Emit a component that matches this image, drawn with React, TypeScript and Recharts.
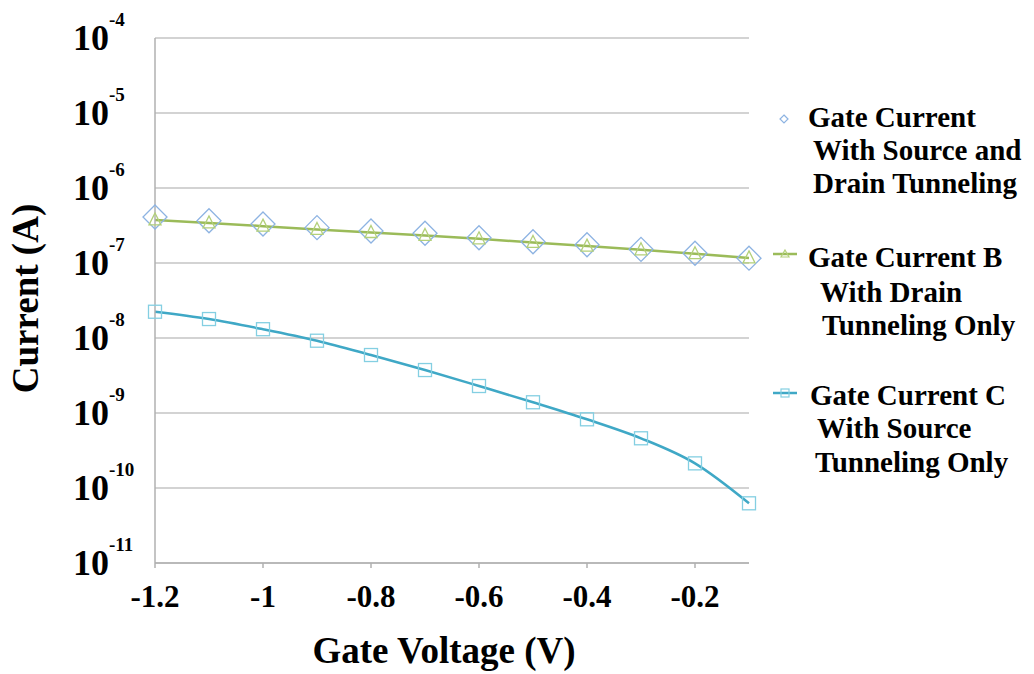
import { LineChart, Line, XAxis, YAxis, CartesianGrid, Legend, Label } from 'recharts';

// Gate voltage sweep (V)
const voltages = [-1.2, -1.1, -1.0, -0.9, -0.8, -0.7, -0.6, -0.5, -0.4, -0.3, -0.2, -0.1];
// Gate current with source and drain tunneling (A)
const currentBoth = [4.1e-7, 3.66e-7, 3.31e-7, 2.96e-7, 2.67e-7, 2.49e-7, 2.17e-7, 1.92e-7, 1.75e-7, 1.52e-7, 1.35e-7, 1.16e-7];
// Gate current B, drain tunneling only (A)
const currentDrain = [3.75e-7, 3.42e-7, 3.1e-7, 2.8e-7, 2.55e-7, 2.33e-7, 2.1e-7, 1.88e-7, 1.68e-7, 1.5e-7, 1.33e-7, 1.17e-7];
// Gate current C, source tunneling only (A)
const currentSource = [2.24e-8, 1.79e-8, 1.31e-8, 9.2e-9, 5.93e-9, 3.74e-9, 2.29e-9, 1.39e-9, 8.24e-10, 4.6e-10, 2.13e-10, 6.25e-11];

const xTicks = [-1.2, -1, -0.8, -0.6, -0.4, -0.2];
const yTicks = [1e-11, 1e-10, 1e-9, 1e-8, 1e-7, 1e-6, 1e-5, 1e-4];

const legendItems = [
  ['Gate Current', 'With Source and', 'Drain Tunneling'],
  ['Gate Current B', 'With Drain', 'Tunneling Only'],
  ['Gate Current C', 'With Source', 'Tunneling Only'],
];

const serif = { fontFamily: "'Liberation Serif', 'Times New Roman', 'DejaVu Serif', serif", fontWeight: 700 };
const GREEN = '#9bbb59';
const TEAL = '#3fa8c6';
const DIAMOND = '#8db3e2';
const TRI = '#b3d07a';
const SQUARE = '#84cfe2';

const chartData = voltages.map((v, i) => ({
  v,
  both: currentBoth[i],
  drain: currentDrain[i],
  source: currentSource[i],
}));

const diamondDot = (p: any) => {
  const { cx, cy, index } = p;
  const r = 12;
  return (
    <path
      key={`d-${index}`}
      d={`M${cx},${cy - r}L${cx + r},${cy}L${cx},${cy + r}L${cx - r},${cy}Z`}
      fill="none"
      stroke={DIAMOND}
      strokeWidth={1.3}
    />
  );
};

const triangleDot = (p: any) => {
  const { cx, cy, index } = p;
  return (
    <path
      key={`t-${index}`}
      d={`M${cx},${cy - 7}L${cx + 6},${cy + 5}L${cx - 6},${cy + 5}Z`}
      fill="none"
      stroke={TRI}
      strokeWidth={1.3}
    />
  );
};

const squareDot = (p: any) => {
  const { cx, cy, index } = p;
  return (
    <rect
      key={`s-${index}`}
      x={cx - 6.5}
      y={cy - 6.5}
      width={13}
      height={13}
      fill="none"
      stroke={SQUARE}
      strokeWidth={1.3}
    />
  );
};

const YTick = ({ x, y, payload }: any) => {
  const exp = Math.round(Math.log10(payload.value));
  return (
    <text x={x - 74} y={y + 12} style={serif} fill="#000">
      <tspan fontSize={36}>10</tspan>
      <tspan fontSize={19} dy={-24}>{String(exp)}</tspan>
    </text>
  );
};

const XTick = ({ x, y, payload }: any) => (
  <text x={x} y={y + 37} textAnchor="middle" style={{ ...serif, fontSize: 31 }} fill="#000">
    {String(payload.value)}
  </text>
);

const renderLegend = () => {
  const textPos = [
    [[68, 37], [73, 70], [73, 103]],
    [[68, 177], [80, 212], [82, 245]],
    [[70, 315], [77, 348], [75, 382]],
  ];
  return (
    <svg width={294} height={400}>
      <path d="M44,25L48,29L44,33L40,29Z" fill="none" stroke={DIAMOND} strokeWidth={1.2} />
      <line x1={33} x2={57} y1={164} y2={164} stroke={GREEN} strokeWidth={2.5} />
      <path d="M45,160L49,167L41,167Z" fill="none" stroke={TRI} strokeWidth={1.2} />
      <line x1={33} x2={57} y1={303} y2={303} stroke={TEAL} strokeWidth={2.5} />
      <rect x={41} y={299} width={8} height={8} fill="none" stroke={SQUARE} strokeWidth={1.2} />
      {legendItems.map((lines, i) =>
        lines.map((t, j) => (
          <text
            key={`${i}-${j}`}
            x={textPos[i][j][0]}
            y={textPos[i][j][1]}
            style={{ ...serif, fontSize: 29 }}
            fill="#000"
          >
            {t}
          </text>
        ))
      )}
    </svg>
  );
};

export default function App() {
  return (
    <div style={{ position: 'absolute', left: 0, top: 0, background: '#fff' }}>
      <LineChart
        width={1034}
        height={674}
        data={chartData}
        margin={{ top: 38, right: 285, bottom: 0, left: 0 }}
      >
        <CartesianGrid vertical={false} stroke="#c4c4c4" strokeWidth={1.5} />
        <XAxis
          dataKey="v"
          type="number"
          domain={[-1.2, -0.1]}
          ticks={xTicks}
          height={111}
          stroke="#b0b0b0"
          strokeWidth={1.5}
          tickSize={5}
          tick={<XTick />}
          interval={0}
        >
          <Label
            content={(props: any) => {
              const vb = props.viewBox;
              return (
                <text
                  x={vb.x + vb.width / 2 - 8}
                  y={vb.y + 100}
                  textAnchor="middle"
                  style={{ ...serif, fontSize: 37 }}
                  fill="#000"
                >
                  Gate Voltage (V)
                </text>
              );
            }}
          />
        </XAxis>
        <YAxis
          scale="log"
          domain={[1e-11, 1e-4]}
          ticks={yTicks}
          allowDataOverflow
          width={155}
          stroke="#b0b0b0"
          strokeWidth={1.5}
          tickLine={false}
          tick={<YTick />}
          interval={0}
        >
          <Label
            content={(props: any) => {
              const vb = props.viewBox;
              const cy = vb.y + vb.height / 2 - 2;
              return (
                <text
                  x={38}
                  y={cy}
                  transform={`rotate(-90, 38, ${cy})`}
                  textAnchor="middle"
                  style={{ ...serif, fontSize: 37 }}
                  fill="#000"
                >
                  Current (A)
                </text>
              );
            }}
          />
        </YAxis>
        <Legend
          layout="horizontal"
          align="center"
          verticalAlign="middle"
          content={renderLegend}
          wrapperStyle={{ position: 'absolute', left: 740, top: 90, width: 294, height: 400 }}
        />
        <Line
          dataKey="both"
          stroke="none"
          strokeWidth={0}
          dot={diamondDot}
          activeDot={false}
          isAnimationActive={false}
        />
        <Line
          dataKey="drain"
          type="linear"
          stroke={GREEN}
          strokeWidth={2.5}
          dot={triangleDot}
          activeDot={false}
          isAnimationActive={false}
        />
        <Line
          dataKey="source"
          type="monotone"
          stroke={TEAL}
          strokeWidth={2.5}
          dot={squareDot}
          activeDot={false}
          isAnimationActive={false}
        />
      </LineChart>
    </div>
  );
}
